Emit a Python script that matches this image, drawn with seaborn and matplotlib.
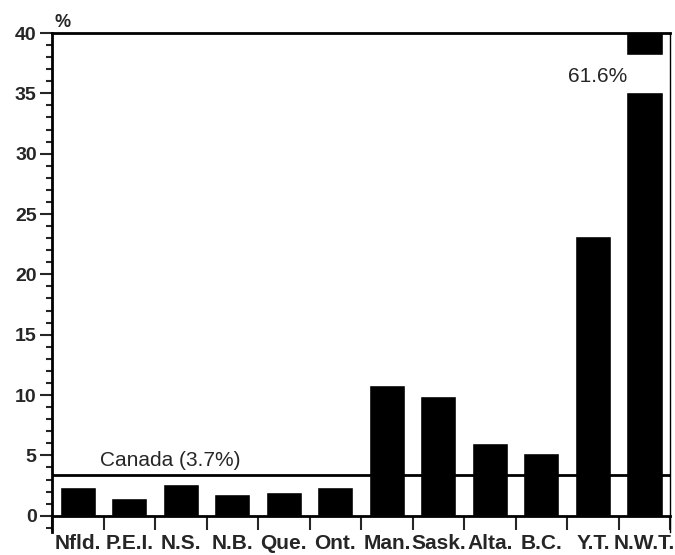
import matplotlib
matplotlib.use("Agg")
import matplotlib.pyplot as plt
from matplotlib.ticker import MultipleLocator, FixedLocator
import seaborn as sns
import pandas as pd

# Values
provinces = ["Nfld.", "P.E.I.", "N.S.", "N.B.", "Que.", "Ont.",
             "Man.", "Sask.", "Alta.", "B.C.", "Y.T.", "N.W.T."]
percent = [2.4, 1.5, 2.6, 1.8, 2.0, 2.4, 10.8, 9.9, 6.0, 5.2, 23.2, 61.6]
canada_line = 3.4
canada_label = "Canada (3.7%)"
nwt_label = "61.6%"

df = pd.DataFrame({"province": provinces, "pct": percent})

sns.set_style("ticks")
plt.rcParams["font.family"] = ["Liberation Sans", "DejaVu Sans"]
narrow = ["Liberation Sans Narrow", "Liberation Sans", "DejaVu Sans"]

fig = plt.figure(figsize=(6.75, 5.55), dpi=100)
ax = fig.add_axes([0.077, 1 - 532 / 555, 0.916, (532 - 33) / 555])

sns.barplot(data=df, x="province", y="pct", color="black", width=0.7,
            saturation=1, ax=ax, zorder=2)

ax.set_xlim(-0.5, 11.5)
ax.set_ylim(-1.35, 40)

# axis break on the N.W.T. bar
ax.fill_between([10.6, 11.4], 35.1, 38.2, color="white", zorder=3)
ax.text(10.66, 36.4, nwt_label, ha="right", va="center", fontsize=15, zorder=4)

# Canada reference line
ax.axhline(canada_line, color="black", lw=2, zorder=4)
ax.text(0.43, 3.8, canada_label, ha="left", va="bottom", fontsize=15)

# spines
for s in ["left", "top", "bottom", "right"]:
    ax.spines[s].set_linewidth(2)
    ax.spines[s].set_color("black")
ax.spines["bottom"].set_position(("data", 0))
ax.spines["top"].set_visible(True)
ax.spines["right"].set_visible(True)
ax.spines["right"].set_linewidth(1)

# y ticks
ax.yaxis.set_major_locator(MultipleLocator(5))
ax.yaxis.set_minor_locator(MultipleLocator(1))
ax.tick_params(axis="y", which="major", length=9, width=1.5, direction="out",
               labelsize=14, pad=2)
ax.tick_params(axis="y", which="minor", length=4.5, width=1.5, direction="out")
for lab in ax.get_yticklabels():
    lab.set_fontweight("bold")

# x ticks: labels at centers, marks at boundaries
ax.xaxis.set_minor_locator(FixedLocator([i + 0.5 for i in range(-1, 12)]))
ax.tick_params(axis="x", which="major", length=0, labelsize=15, pad=13)
ax.tick_params(axis="x", which="minor", length=10, width=1.5, direction="out")
for lab in ax.get_xticklabels():
    lab.set_fontweight("bold")
    lab.set_family(narrow)
ax.set_xlabel("")
ax.set_ylabel("")

ax.text(-0.45, 40.2, "%", ha="left", va="bottom", fontsize=13, fontweight="bold")

fig.savefig("out.png", dpi=100)
